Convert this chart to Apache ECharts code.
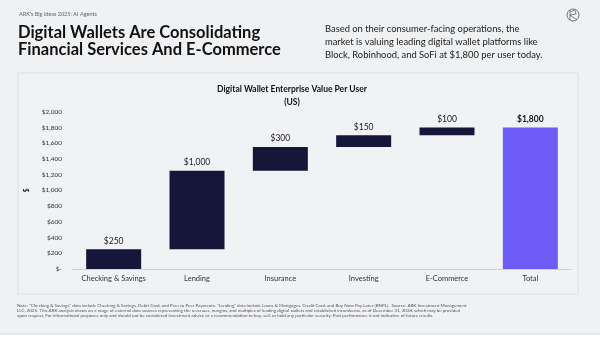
<!DOCTYPE html>
<html><head><meta charset="utf-8">
<script src="https://cdn.jsdelivr.net/npm/echarts@6/dist/echarts.min.js"></script>
<style>html,body{margin:0;padding:0;background:#f0f1f3;}#c{width:600px;height:339px;}</style>
</head><body><div id="c"></div>
<script>
const categories = ['Checking & Savings','Lending','Insurance','Investing','E-Commerce','Total'];
const increments = [250, 1000, 300, 150, 100, null];
const totalValue = 1800;
const yTicks = [0,200,400,600,800,1000,1200,1400,1600,1800,2000];

// build waterfall bases from increments
const bases = [], deltas = [], totals = [];
let run = 0;
categories.forEach((c,i)=>{
  if (increments[i] === null) { bases.push(0); deltas.push('-'); totals.push(totalValue); }
  else { bases.push(run); deltas.push(increments[i]); totals.push('-'); run += increments[i]; }
});
const fmt = v => v === 0 ? '$-' : '$' + v.toLocaleString('en-US');
const F = 'Lato, "Open Sans", sans-serif';
const chart = echarts.init(document.getElementById('c'));
chart.setOption({
  backgroundColor: '#f0f1f3',
  animation: false,
  textStyle: {fontFamily: F},
  grid: {left: 72, right: 28, top: 111.7, bottom: 70},
  xAxis: {type:'category', data: categories,
    axisLine:{lineStyle:{color:'#d0d3d8'}}, axisTick:{show:false},
    axisLabel:{color:'#333', fontSize:7.5, margin:6, interval:0, fontFamily:F}},
  yAxis: {type:'value', min:0, max:2000, interval:200,
    splitLine:{show:false}, axisLine:{show:false}, axisTick:{show:false},
    axisLabel:{color:'#333', fontSize:6.5, margin:10, formatter: v=>fmt(v), fontFamily:F},
    name:'$', nameLocation:'middle', nameGap:40, nameRotate:90,
    nameTextStyle:{color:'#222', fontSize:6.5, fontWeight:'bold'}},
  series: [
    {type:'bar', stack:'w', data: bases, barWidth:'66%', itemStyle:{color:'transparent'}, silent:true},
    {type:'bar', stack:'w', data: deltas, barWidth:'66%', itemStyle:{color:'#15163a'},
      label:{show:true, position:'top', distance:4, color:'#222', fontSize:8.5, formatter:p=>fmt(p.value)}},
    {type:'bar', stack:'w', data: totals, barWidth:'66%', itemStyle:{color:'#6e5cf6'},
      label:{show:true, position:'top', distance:4, color:'#111', fontSize:8.5, fontWeight:'bold', formatter:p=>fmt(p.value)}}
  ],
  graphic: [
    {type:'rect', shape:{x:18,y:73,width:560,height:221}, style:{fill:'#f1f2f4', stroke:'#dcdee2', lineWidth:1}, z:-10, silent:true},
    {type:'text', left:19, top:11, style:{text:"ARK's Big Ideas 2025: AI Agents", fill:'#666', fontSize:5.5, fontFamily:F}},
    {type:'text', left:18, top:23.5, style:{text:'Digital Wallets Are Consolidating\nFinancial Services And E-Commerce', fill:'#111', fontSize:16.5, fontWeight:'bold', lineHeight:17.5, fontFamily:F}},
    {type:'text', left:325, top:22, style:{text:'Based on their consumer-facing operations, the\nmarket is valuing leading digital wallet platforms like\nBlock, Robinhood, and SoFi at $1,800 per user today.', fill:'#222', fontSize:9.4, lineHeight:13.3, fontFamily:F}},
    {type:'circle', shape:{cx:573, cy:15, r:6}, style:{fill:'none', stroke:'#555', lineWidth:0.8}},
    {type:'polyline', shape:{points:[[570,10],[570,20]]}, style:{stroke:'#555', lineWidth:0.7, fill:'none'}},
    {type:'polyline', shape:{points:[[570,12],[575,10],[576,14],[570,15],[577,20]]}, style:{stroke:'#555', lineWidth:0.7, fill:'none'}},
    {type:'text', x:292, y:89, style:{text:'Digital Wallet Enterprise Value Per User', fill:'#111', fontSize:8.5, fontWeight:'bold', align:'center', verticalAlign:'middle', fontFamily:F}},
    {type:'text', x:292, y:102, style:{text:'(US)', fill:'#111', fontSize:8.5, fontWeight:'bold', align:'center', verticalAlign:'middle', fontFamily:F}},
    {type:'text', left:17, top:303, style:{text:'Note: "Checking & Savings" data include Checking & Savings, Debit Card, and Peer to Peer Payments. "Lending" data include Loans & Mortgages, Credit Card, and Buy Now Pay Later (BNPL).  Source: ARK Investment Management\nLLC, 2025. This ARK analysis draws on a range of external data sources representing the revenues, margins, and multiples of leading digital wallets and established incumbents, as of December 31, 2024, which may be provided\nupon request. For informational purposes only and should not be considered investment advice or a recommendation to buy, sell, or hold any particular security. Past performance is not indicative of future results.', fill:'#555', fontSize:4.5, lineHeight:5, fontFamily:F}},
    {type:'rect', shape:{x:0,y:334,width:600,height:5}, style:{fill:'#ffffff'}, silent:true},
    {type:'line', shape:{x1:0,y1:334,x2:600,y2:334}, style:{stroke:'#d6d8dc', lineWidth:1}}
  ]
});
</script></body></html>
